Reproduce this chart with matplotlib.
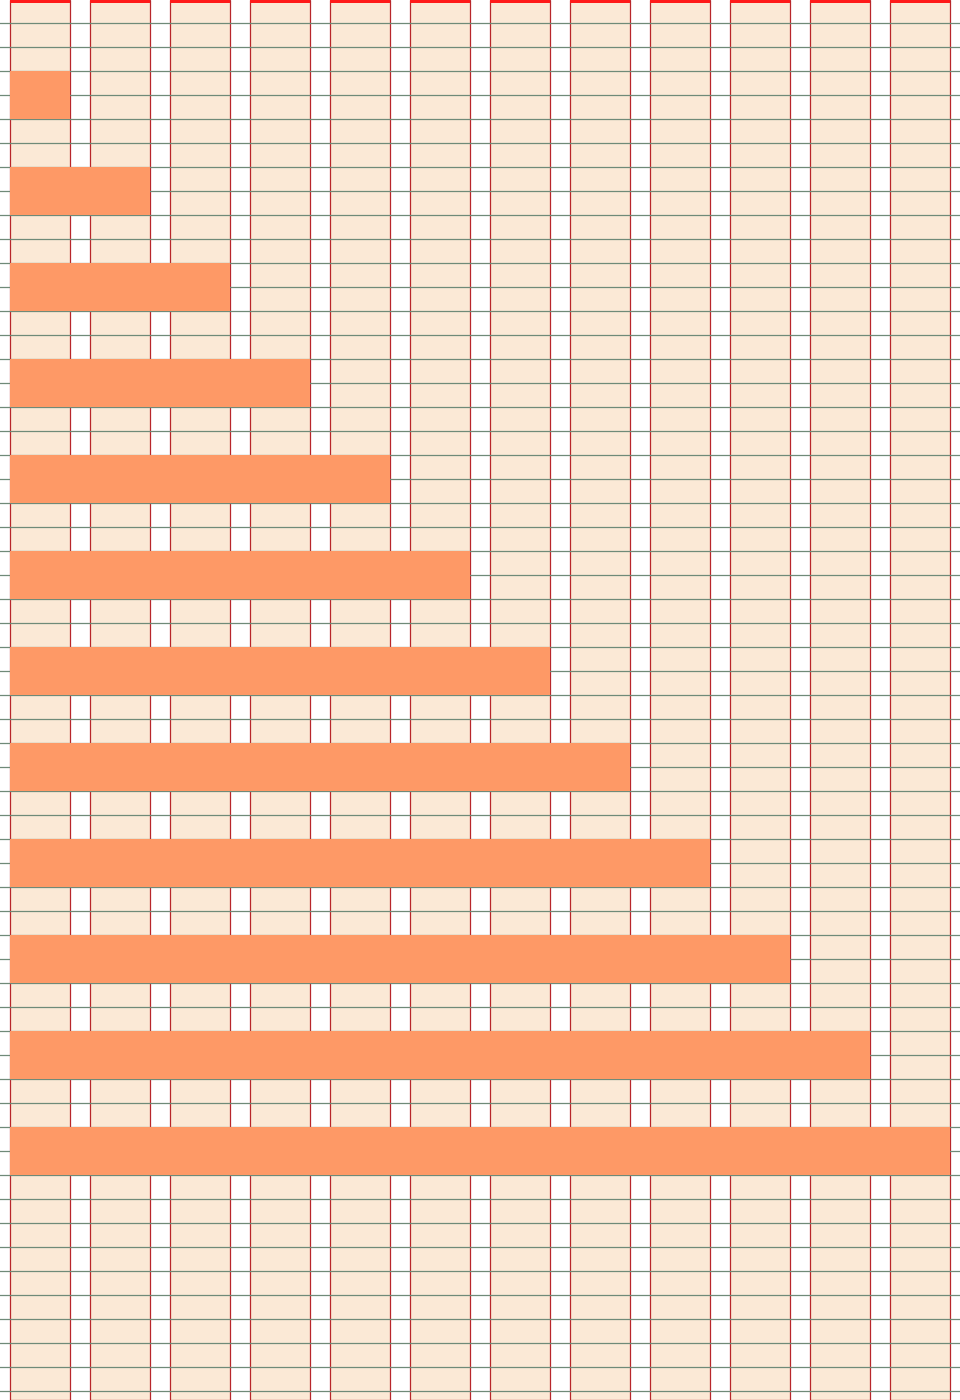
import matplotlib
matplotlib.use("Agg")
import matplotlib.pyplot as plt

# grid layout
column_count = 12
column_width = 60
gutter = 20
row_height = 24

# each bar: how many columns it spans, and the grid row where it starts
bar_spans = [1, 2, 3, 4, 5, 6, 7, 8, 9, 10, 11, 12]
bar_rows = [3, 7, 11, 15, 19, 23, 27, 31, 35, 39, 43, 47]
bar_row_span = 2

W, H = 960, 1400
fig = plt.figure(figsize=(W / 100, H / 100), dpi=100)
ax = fig.add_axes([0, 0, 1, 1])
ax.set_xlim(0, W)
ax.set_ylim(H, 0)
ax.axis("off")

lefts = [10 + i * (column_width + gutter) for i in range(column_count)]

# column backgrounds with red borders
ax.bar(lefts, H, width=column_width, bottom=0, align="edge",
       color="#fbe9d6", edgecolor="#b8262a", linewidth=0.9, zorder=1)
# thick red top edge
ax.bar(lefts, 3, width=column_width, bottom=0, align="edge",
       color="#ff1a1a", linewidth=0, zorder=2)

# baseline rows
for k in range(1, H // row_height + 1):
    ax.axhline(k * row_height - 1, color="#6f8a78", linewidth=0.9, zorder=3)

# orange items
widths = [s * (column_width + gutter) - gutter for s in bar_spans]
tops = [r * row_height - 1 for r in bar_rows]
ax.barh(tops, widths, height=bar_row_span * row_height, left=10, align="edge",
        color="#fe9966", linewidth=0, zorder=4)

fig.savefig("out.png", dpi=100)
